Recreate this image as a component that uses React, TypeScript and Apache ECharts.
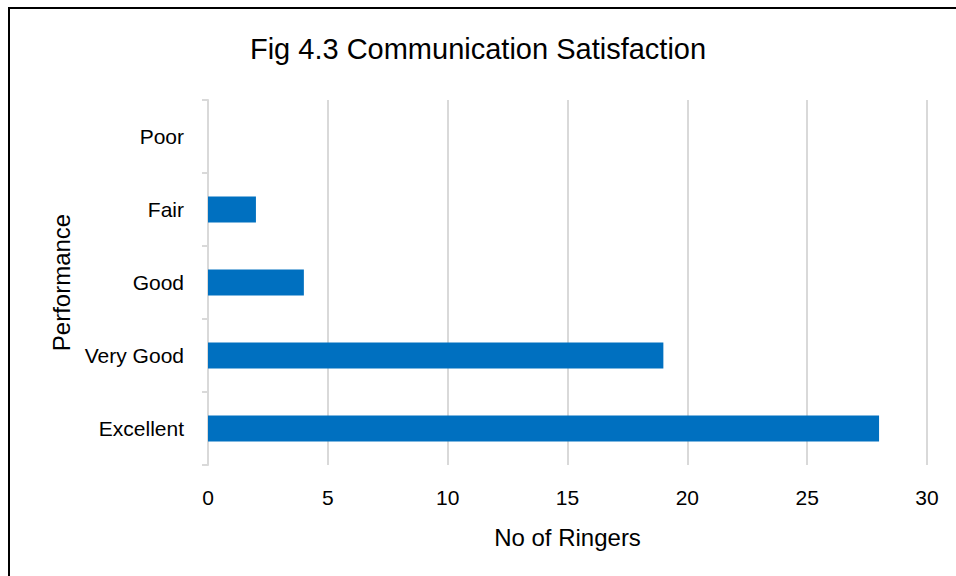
import React, { useEffect, useRef } from "react";
import * as echarts from "echarts";

const categories = ["Excellent", "Very Good", "Good", "Fair", "Poor"];
const ringers = [28, 19, 4, 2, 0];
const xTicks = { min: 0, max: 30, interval: 5 };
const titleText = "Fig 4.3 Communication Satisfaction";
const xName = "No of Ringers";
const yName = "Performance";

export default function App() {
  const ref = useRef<HTMLDivElement>(null);
  useEffect(() => {
    if (!ref.current) return;
    const chart = echarts.init(ref.current, null, { renderer: "svg" });
    const font = "'Liberation Sans', Arial, sans-serif";
    chart.setOption({
      animation: false,
      backgroundColor: "#ffffff",
      title: {
        text: titleText,
        left: "center",
        top: 29,
        textStyle: { fontFamily: font, fontSize: 29, fontWeight: "normal", color: "#000" },
      },
      grid: { left: 208, right: 29, top: 100, bottom: 111 },
      xAxis: {
        type: "value",
        min: xTicks.min,
        max: xTicks.max,
        interval: xTicks.interval,
        name: xName,
        nameLocation: "middle",
        nameGap: 60,
        nameTextStyle: { fontFamily: font, fontSize: 24, color: "#000" },
        axisLine: { show: false },
        axisTick: { show: false },
        axisLabel: { fontFamily: font, fontSize: 21, color: "#000", margin: 22 },
        splitLine: { show: true, lineStyle: { color: "#D9D9D9", width: 2 } },
      },
      yAxis: {
        type: "category",
        data: categories,
        name: yName,
        nameLocation: "middle",
        nameGap: 134,
        nameTextStyle: { fontFamily: font, fontSize: 24, color: "#000" },
        axisLine: { show: true, lineStyle: { color: "#D9D9D9", width: 2 } },
        axisTick: { show: true, length: 6, lineStyle: { color: "#D9D9D9", width: 2 } },
        axisLabel: { fontFamily: font, fontSize: 21, color: "#000", margin: 24 },
      },
      series: [
        {
          type: "bar",
          data: ringers,
          barWidth: 26,
          itemStyle: { color: "#0070C0" },
        },
      ],
      graphic: [
        {
          type: "rect",
          shape: { x: 9, y: 8, width: 1200, height: 1200 },
          style: { fill: "none", stroke: "#000", lineWidth: 2 },
          silent: true,
        },
      ],
    });
    return () => chart.dispose();
  }, []);
  return (
    <div
      ref={ref}
      style={{ position: "absolute", left: 0, top: 0, width: 956, height: 576 }}
    />
  );
}
